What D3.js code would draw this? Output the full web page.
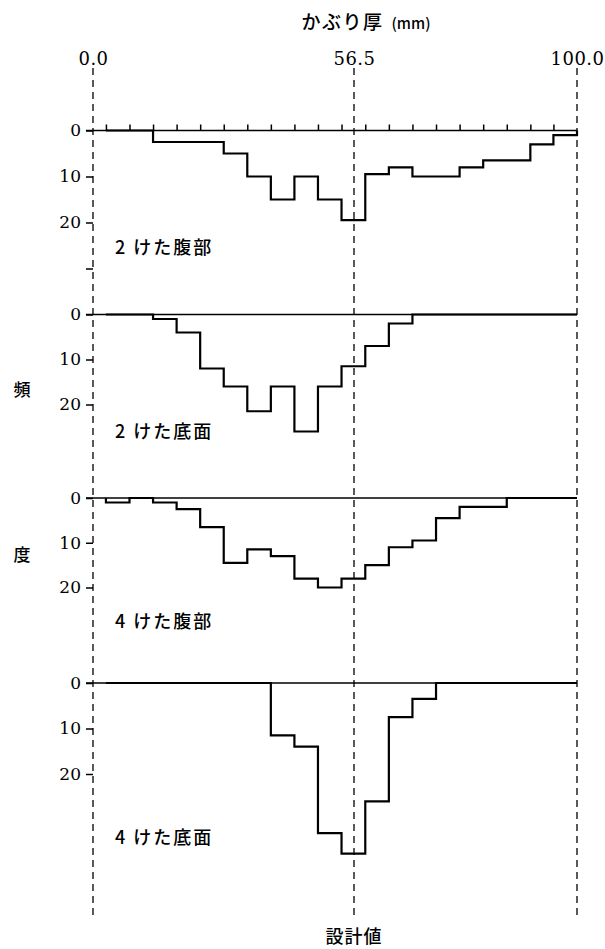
<!DOCTYPE html>
<html>
<head>
<meta charset="utf-8">
<script src="https://cdn.jsdelivr.net/npm/d3@7"></script>
<style>
  body { margin: 0; background: #fff; }
  svg { display: block; }
</style>
</head>
<body>
<svg id="chart" width="605" height="949"></svg>
<script>
// Class edges of the cover-thickness histograms (mm), shared by all four panels
const binEdges = [2.8, 7.9, 13.0, 18.1, 23.2, 28.3, 33.4, 38.5, 43.6, 48.7, 53.8,
                  58.7, 63.3, 67.9, 72.5, 77.1, 81.7, 86.3, 90.9, 95.4, 100.0];

// Frequency per class for each member / face
const panelNames   = ["2 けた腹部", "2 けた底面", "4 けた腹部", "4 けた底面"];
const freq2Web     = [0, 0, 2.5, 2.5, 2.5, 5, 10, 15, 10, 15, 19.5, 9.5, 8, 10, 10, 8, 6.5, 6.5, 3, 1];
const freq2Bottom  = [0, 0, 1, 4, 12, 16, 21.5, 16, 26, 16, 11.5, 7, 2, 0, 0, 0, 0, 0, 0, 0];
const freq4Web     = [1, 0, 1, 2.5, 6.5, 14.5, 11.5, 13, 18, 20, 18, 15, 11, 9.5, 4.5, 2, 2, 0, 0, 0];
const freq4Bottom  = [0, 0, 0, 0, 0, 0, 0, 11.5, 14, 33, 37.5, 26, 7.5, 3.5, 0, 0, 0, 0, 0, 0];

// Axis ticks
const xTicks      = [0, 56.5, 100];
const xTickLabels = ["0.0", "56.5", "100.0"];
const designValue = 56.5;
const yTicks      = [0, 10, 20];
const yTicksFirst = [0, 10, 20, 30];

const series = [freq2Web, freq2Bottom, freq4Web, freq4Bottom];

// ---- layout ----
const zeroY   = [130.5, 314.5, 498, 683];   // zero line of each panel
const span20  = [92, 90, 89.5, 91];         // pixels from 0 to 20
const nameY   = [248, 432, 622, 838];       // panel caption centre
const guideTop = 68, guideBottom = 918;

const serif = "'DejaVu Serif', 'Liberation Serif', serif";
const jp = "'Noto Sans CJK JP', 'Noto Sans CJK SC', sans-serif";

const svg = d3.select("#chart");

// cover axis: 0 / design value / 100 are placed exactly on the dashed guides
const x = d3.scaleLinear().domain([0, designValue, 100]).range([93, 354, 577]);

// dashed guides
svg.append("g")
  .selectAll("line")
  .data(xTicks)
  .join("line")
  .attr("x1", d => x(d)).attr("x2", d => x(d))
  .attr("y1", guideTop).attr("y2", guideBottom)
  .attr("stroke", "#000")
  .attr("stroke-width", 1.3)
  .attr("stroke-dasharray", "7,5");

// top axis labels
const topAxis = d3.axisTop(x)
  .tickValues(xTicks)
  .tickSize(0)
  .tickPadding(0)
  .tickFormat((d, i) => xTickLabels[i]);
svg.append("g")
  .attr("transform", "translate(0,65)")
  .call(topAxis)
  .call(g => g.select(".domain").remove())
  .call(g => g.selectAll("text")
    .attr("font-family", serif)
    .attr("font-size", 18)
    .attr("letter-spacing", 0.5)
    .attr("fill", "#000"));

// axis title
const title = svg.append("text")
  .attr("x", 366).attr("y", 29)
  .attr("text-anchor", "middle")
  .attr("font-family", jp)
  .attr("font-weight", 500)
  .attr("fill", "#000");
title.append("tspan").attr("font-size", 19).attr("letter-spacing", 1.5).text("かぶり厚");
title.append("tspan").attr("font-size", 15).attr("dx", 8).text("(mm)");

// panels
series.forEach((vals, i) => {
  const y = d3.scaleLinear().domain([0, 20]).range([zeroY[i], zeroY[i] + span20[i]]);
  const g = svg.append("g");

  // zero line
  g.append("line")
    .attr("x1", x(0) - 7).attr("x2", x(100))
    .attr("y1", y(0)).attr("y2", y(0))
    .attr("stroke", "#000").attr("stroke-width", 1.6);

  // frequency axis
  const yAxis = d3.axisLeft(y)
    .tickValues(i === 0 ? yTicksFirst : yTicks)
    .tickSize(7)
    .tickPadding(5)
    .tickFormat(d => d > 20 ? "" : d);
  g.append("g")
    .attr("transform", `translate(${x(0)},0)`)
    .call(yAxis)
    .call(a => a.select(".domain").remove())
    .call(a => a.selectAll("line").attr("stroke", "#000").attr("stroke-width", 1.5))
    .call(a => a.selectAll("text")
      .attr("font-family", serif)
      .attr("font-size", 17)
      .attr("fill", "#000"));

  // class marks on the first panel
  if (i === 0) {
    const classAxis = d3.axisTop(x)
      .tickValues(binEdges.slice(0, binEdges.length - 1))
      .tickSize(6)
      .tickFormat("");
    g.append("g")
      .attr("transform", `translate(0,${y(0)})`)
      .call(classAxis)
      .call(a => a.select(".domain").remove())
      .call(a => a.selectAll("line").attr("stroke", "#000").attr("stroke-width", 1.5));
  }

  // stepped histogram outline
  const pts = [[binEdges[0], 0]]
    .concat(vals.map((v, k) => [binEdges[k], v]))
    .concat([[binEdges[binEdges.length - 1], 0]]);
  const step = d3.line()
    .x(d => x(d[0]))
    .y(d => y(d[1]))
    .curve(d3.curveStepAfter);
  g.append("path")
    .attr("d", step(pts))
    .attr("fill", "none")
    .attr("stroke", "#000")
    .attr("stroke-width", 2.2)
    .attr("stroke-linejoin", "miter");

  // caption
  g.append("text")
    .attr("x", 115).attr("y", nameY[i])
    .attr("dy", "0.35em")
    .attr("font-family", jp)
    .attr("font-weight", 500)
    .attr("font-size", 18)
    .attr("letter-spacing", 2)
    .attr("fill", "#000")
    .text(panelNames[i]);
});

// vertical axis name
svg.append("text")
  .attr("x", 22).attr("y", 390).attr("dy", "0.35em")
  .attr("text-anchor", "middle")
  .attr("font-family", jp).attr("font-weight", 500).attr("font-size", 17).attr("fill", "#000")
  .text("頻");
svg.append("text")
  .attr("x", 22).attr("y", 555).attr("dy", "0.35em")
  .attr("text-anchor", "middle")
  .attr("font-family", jp).attr("font-weight", 500).attr("font-size", 17).attr("fill", "#000")
  .text("度");

// design value caption
svg.append("text")
  .attr("x", x(designValue)).attr("y", 937).attr("dy", "0.35em")
  .attr("text-anchor", "middle")
  .attr("font-family", jp).attr("font-weight", 500).attr("font-size", 18).attr("letter-spacing", 1)
  .attr("fill", "#000")
  .text("設計値");
</script>
</body>
</html>
